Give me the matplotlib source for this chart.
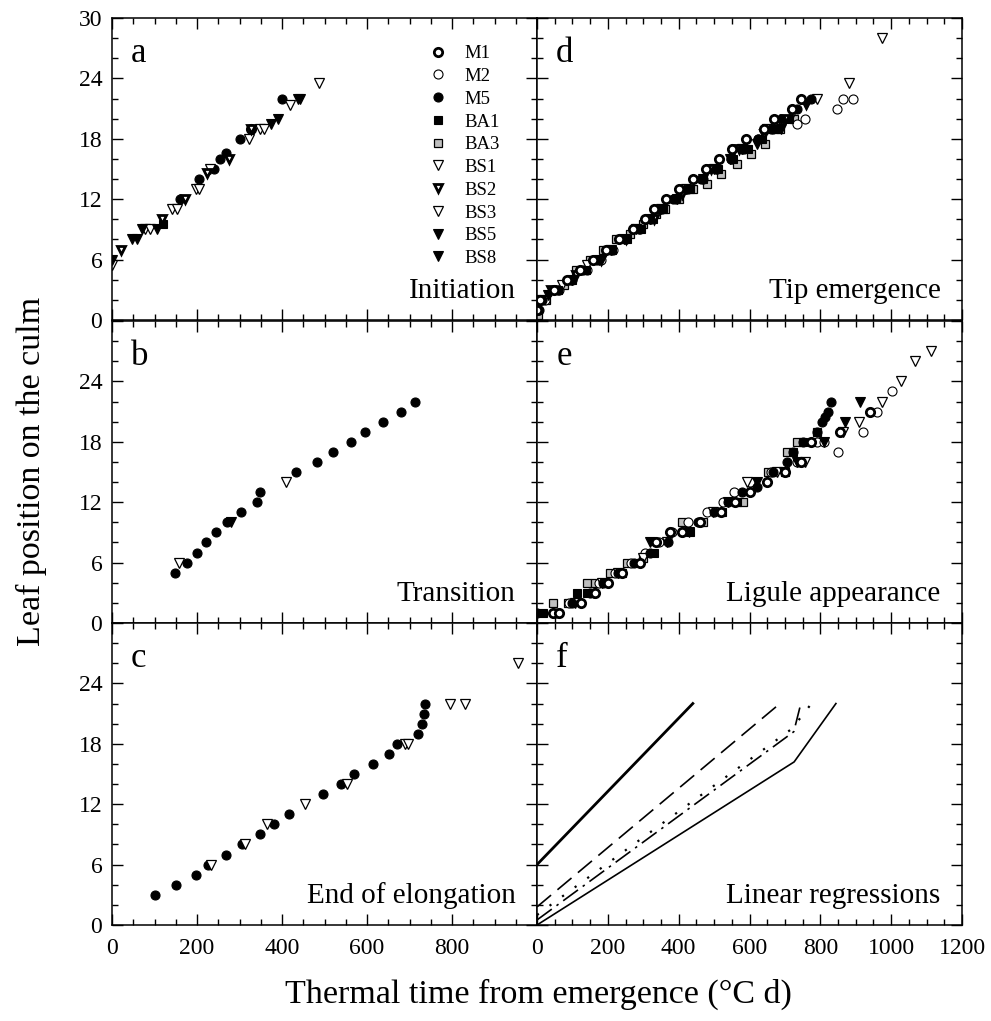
import matplotlib
matplotlib.use("Agg")
import matplotlib.pyplot as plt
from matplotlib.ticker import MultipleLocator

plt.rcParams["font.family"] = ["Liberation Serif", "DejaVu Serif"]

# ---- panel a: initiation ----
a_m5_x = [160, 205, 241, 254, 268, 300, 399]
a_m5_y = [12, 14, 15, 16, 16.6, 18, 22]
a_m1_x = [327]
a_m1_y = [19]
a_ba1_x = [120]
a_ba1_y = [9.5]
a_bs1_x = [0, 78, 89, 140, 152, 198, 205, 230, 322, 348, 358, 419, 486]
a_bs1_y = [5.5, 9, 9, 11, 11, 13, 13, 15, 18, 19, 19, 21.4, 23.5]
a_bs2_x = [20, 117, 172, 223, 275, 327]
a_bs2_y = [7, 10, 12, 14.6, 16, 19]
a_bs5_x = [0, 48, 59, 70, 107, 373, 390, 438, 442]
a_bs5_y = [6, 8, 8, 9, 9, 19.5, 20, 22, 22]

# ---- panel b: transition ----
b_m5_x = [148, 176, 199, 221, 244, 270, 303, 342, 349, 434, 482, 521, 562, 595, 637, 680, 713]
b_m5_y = [5, 6, 7, 8, 9, 10, 11, 12, 13, 15, 16, 17, 18, 19, 20, 21, 22]
b_bs1_x = [158, 409]
b_bs1_y = [6, 14]
b_bs5_x = [280]
b_bs5_y = [10]

# ---- panel c: end of elongation ----
c_m5_x = [101, 151, 197, 227, 268, 307, 348, 382, 416, 497, 538, 569, 613, 651, 670, 719, 729, 733, 736]
c_m5_y = [3, 4, 5, 6, 7, 8, 9, 10, 11, 13, 14, 15, 16, 17, 18, 19, 20, 21, 22]
c_bs1_x = [233, 314, 364, 454, 552, 689, 697, 795, 831, 956]
c_bs1_y = [6, 8, 10, 12, 14, 18, 18, 22, 22, 26]

# ---- panel d: tip emergence ----
d_m1_x = [0, 8, 48, 85, 120, 158, 195, 232, 272, 305, 330, 365, 400, 440, 478, 515, 550, 590, 640, 670, 720, 745]
d_m1_y = [1, 2, 3, 4, 5, 6, 7, 8, 9, 10, 11, 12, 13, 14, 15, 16, 17, 18, 19, 20, 21, 22]
d_m2_x = [2, 22, 62, 100, 142, 180, 215, 250, 290, 322, 352, 392, 425, 470, 508, 548, 585, 625, 665, 733, 757, 846, 864, 892]
d_m2_y = [1, 2, 3, 4, 5, 6, 7, 8, 9, 10, 11, 12, 13, 14, 15, 16, 17, 18, 19, 19.5, 20, 21, 22, 22]
d_m5_x = [5, 15, 58, 95, 130, 170, 208, 248, 288, 318, 345, 385, 420, 462, 505, 548, 580, 625, 662, 690, 735, 775]
d_m5_y = [1, 2, 3, 4, 5, 6, 7, 8, 9, 10, 11, 12, 13, 14, 15, 16, 17, 18, 19, 20, 21, 22]
d_ba1_x = [0, 12, 60, 100, 138, 172, 212, 255, 295, 328, 355, 392, 432, 470, 510, 552, 595, 635, 672, 712]
d_ba1_y = [1.5, 2, 3, 4, 5, 6, 7, 8, 9, 10, 11, 12, 13, 14, 15, 16, 17, 18, 19, 20]
d_ba3_x = [3, 25, 75, 110, 150, 185, 222, 262, 300, 335, 362, 400, 440, 480, 520, 565, 605, 645, 685, 725]
d_ba3_y = [0.5, 2, 3.5, 5, 6, 7, 8, 8.5, 9.5, 10.5, 11, 12, 13, 13.5, 14.5, 15.5, 16.5, 17.5, 19, 20]
d_bs1_x = [10, 70, 140, 210, 280, 350, 420, 500, 580, 650, 720, 790, 880, 975]
d_bs1_y = [2, 3.5, 5.5, 7, 9, 11, 13, 15, 17, 19, 20.5, 22, 23.5, 28]
d_bs2_x = [40, 110, 180, 250, 330, 410, 490, 570, 640, 700, 760]
d_bs2_y = [3, 4.5, 6, 8, 10, 12.5, 15, 17, 18.5, 20, 21.5]
d_bs5_x = [30, 100, 175, 245, 320, 395, 470, 545, 620, 690, 760]
d_bs5_y = [2.5, 4, 6, 8, 10, 12, 14, 16, 17.5, 19, 21.5]

# ---- panel e: ligule appearance ----
e_m1_x = [45, 62, 125, 165, 200, 240, 290, 335, 375, 410, 460, 520, 560, 600, 650, 700, 745, 775, 855, 940]
e_m1_y = [1, 1, 2, 3, 4, 5, 6, 8, 9, 9, 10, 11, 12, 13, 14, 15, 16, 18, 19, 21]
e_m2_x = [55, 90, 160, 175, 220, 265, 305, 345, 380, 425, 480, 525, 555, 600, 660, 735, 790, 809, 849, 921, 959, 1001]
e_m2_y = [1, 2, 3, 4, 5, 6, 7, 8, 9, 10, 11, 12, 13, 14, 15, 16, 18, 18, 17, 19, 21, 23]
e_m5_x = [0, 100, 150, 185, 230, 275, 320, 370, 410, 455, 500, 540, 580, 620, 665, 705, 724, 752, 790, 804, 813, 822, 829]
e_m5_y = [1, 2, 3, 4, 5, 6, 7, 8, 9, 10, 11, 12, 13, 13.5, 15, 16, 17, 18, 19, 20, 20.5, 21, 22]
e_ba1_x = [18, 112, 140, 188, 239, 330, 432, 522, 564, 700, 724, 752]
e_ba1_y = [1, 3, 3, 4, 5, 7, 9, 11, 12, 15, 17, 18]
e_ba3_x = [46, 88, 140, 164, 206, 254, 300, 408, 470, 583, 653, 705, 733, 790]
e_ba3_y = [2, 2, 4, 4, 5, 6, 6.5, 10, 10, 12, 15, 17, 18, 19]
e_bs1_x = [107, 183, 230, 300, 366, 498, 592, 677, 757, 864, 910, 973, 1029, 1068, 1112]
e_bs1_y = [2, 4, 5, 6.5, 8, 11, 14, 15, 16, 19, 20, 22, 24, 26, 27]
e_bs5_x = [319, 428, 540, 620, 696, 733, 809, 869, 911]
e_bs5_y = [8, 9, 12, 14, 15, 16, 18, 20, 22]

# ---- panel f: linear regressions ----
f_init_x = [0, 440]
f_init_y = [6, 22]
f_tip_x = [0, 686]
f_tip_y = [1.8, 22]
f_lig_x = [0, 720, 775]
f_lig_y = [1.0, 19.5, 22]
f_trans_x = [0, 725, 745]
f_trans_y = [0.5, 19.2, 22]
f_end_x = [0, 726, 844]
f_end_y = [0, 16.2, 22]

STYLES = {
    "M1": dict(marker="o", mfc="white", mec="black", mew=2.0, ms=6),
    "M2": dict(marker="o", mfc="white", mec="black", mew=0.8, ms=6.5),
    "M5": dict(marker="o", mfc="black", mec="black", mew=0.8, ms=6.5),
    "BA1": dict(marker="s", mfc="black", mec="black", mew=0.8, ms=5.5),
    "BA3": dict(marker="s", mfc="0.75", mec="black", mew=0.9, ms=5.5),
    "BS1": dict(marker="v", mfc="white", mec="black", mew=0.9, ms=6.5),
    "BS2": dict(marker="v", mfc="white", mec="black", mew=2.0, ms=6),
    "BS3": dict(marker="v", mfc="white", mec="black", mew=0.9, ms=6.5),
    "BS5": dict(marker="v", mfc="black", mec="black", mew=0.8, ms=6.5),
    "BS8": dict(marker="v", mfc="black", mec="black", mew=0.8, ms=6.5),
}


def pts(ax, x, y, key):
    ax.plot(x, y, linestyle="none", label=key, **STYLES[key])


def style_axis(ax, xmax, show_x, show_y, top_row):
    ax.set_xlim(0, xmax)
    ax.set_ylim(0, 30)
    ax.xaxis.set_major_locator(MultipleLocator(200))
    ax.xaxis.set_minor_locator(MultipleLocator(50))
    ax.yaxis.set_major_locator(MultipleLocator(6))
    ax.yaxis.set_minor_locator(MultipleLocator(2))
    ax.tick_params(which="both", direction="in", top=True, right=True, width=1.0)
    ax.tick_params(which="major", length=8, labelsize=17, pad=7)
    ax.tick_params(axis="x", which="major", pad=9)
    ax.tick_params(which="minor", length=4)
    for sp in ax.spines.values():
        sp.set_linewidth(1.1)
    if show_x:
        if xmax == 1000:
            ax.set_xticks([0, 200, 400, 600, 800, 1000])
            ax.set_xticklabels(["0", "200", "400", "600", "800", ""])
    else:
        ax.tick_params(labelbottom=False)
    if show_y:
        ax.set_yticks([0, 6, 12, 18, 24, 30])
        if not top_row:
            ax.set_yticklabels(["0", "6", "12", "18", "24", ""])
    else:
        ax.tick_params(labelleft=False)


def label_panel(ax, letter, name):
    ax.text(0.045, 0.855, letter, transform=ax.transAxes, fontsize=25,
            ha="left", va="baseline")
    ax.text(0.95, 0.073, name, transform=ax.transAxes, fontsize=21,
            ha="right", va="baseline")


fig = plt.figure(figsize=(9.91, 10.21), dpi=100)

x_left, x_right, w = 112 / 991, 537 / 991, 425 / 991
h = 302 / 1021
rows = [1 - 320 / 1021, 1 - 623 / 1021, 1 - 925 / 1021]

ax_a = fig.add_axes([x_left, rows[0], w, h])
ax_b = fig.add_axes([x_left, rows[1], w, h])
ax_c = fig.add_axes([x_left, rows[2], w, h])
ax_d = fig.add_axes([x_right, rows[0], w, h])
ax_e = fig.add_axes([x_right, rows[1], w, h])
ax_f = fig.add_axes([x_right, rows[2], w, h])

# panel a
pts(ax_a, a_m1_x, a_m1_y, "M1")
pts(ax_a, [], [], "M2")
pts(ax_a, a_m5_x, a_m5_y, "M5")
pts(ax_a, a_ba1_x, a_ba1_y, "BA1")
pts(ax_a, [], [], "BA3")
pts(ax_a, a_bs1_x, a_bs1_y, "BS1")
pts(ax_a, a_bs2_x, a_bs2_y, "BS2")
pts(ax_a, [], [], "BS3")
pts(ax_a, a_bs5_x, a_bs5_y, "BS5")
pts(ax_a, [], [], "BS8")
ax_a.legend(loc="upper left", bbox_to_anchor=(0.728, 0.935), frameon=False,
            fontsize=13.5, handlelength=1.0, handletextpad=0.9,
            labelspacing=0.30, borderaxespad=0)

# panel b
pts(ax_b, b_m5_x, b_m5_y, "M5")
pts(ax_b, b_bs1_x, b_bs1_y, "BS1")
pts(ax_b, b_bs5_x, b_bs5_y, "BS5")

# panel c
pts(ax_c, c_m5_x, c_m5_y, "M5")
pts(ax_c, c_bs1_x, c_bs1_y, "BS1")

# panel d
pts(ax_d, d_ba3_x, d_ba3_y, "BA3")
pts(ax_d, d_m2_x, d_m2_y, "M2")
pts(ax_d, d_bs1_x, d_bs1_y, "BS1")
pts(ax_d, d_ba1_x, d_ba1_y, "BA1")
pts(ax_d, d_bs2_x, d_bs2_y, "BS2")
pts(ax_d, d_bs5_x, d_bs5_y, "BS5")
pts(ax_d, d_m5_x, d_m5_y, "M5")
pts(ax_d, d_m1_x, d_m1_y, "M1")

# panel e
pts(ax_e, e_ba3_x, e_ba3_y, "BA3")
pts(ax_e, e_m2_x, e_m2_y, "M2")
pts(ax_e, e_bs1_x, e_bs1_y, "BS1")
pts(ax_e, e_ba1_x, e_ba1_y, "BA1")
pts(ax_e, e_bs5_x, e_bs5_y, "BS5")
pts(ax_e, e_m5_x, e_m5_y, "M5")
pts(ax_e, e_m1_x, e_m1_y, "M1")

# panel f
ax_f.plot(f_init_x, f_init_y, color="black", lw=2.0)
ax_f.plot(f_tip_x, f_tip_y, color="black", lw=1.2, dashes=(11, 5))
ax_f.plot(f_lig_x, f_lig_y, color="black", lw=1.6, dashes=(1, 6))
ax_f.plot(f_trans_x, f_trans_y, color="black", lw=1.2, dashes=(11, 3.5, 1.5, 3.5))
ax_f.plot(f_end_x, f_end_y, color="black", lw=1.2)

style_axis(ax_a, 1000, False, True, True)
style_axis(ax_b, 1000, False, True, False)
style_axis(ax_c, 1000, True, True, False)
style_axis(ax_d, 1200, False, False, True)
style_axis(ax_e, 1200, False, False, False)
style_axis(ax_f, 1200, True, False, False)

label_panel(ax_a, "a", "Initiation")
label_panel(ax_b, "b", "Transition")
label_panel(ax_c, "c", "End of elongation")
label_panel(ax_d, "d", "Tip emergence")
label_panel(ax_e, "e", "Ligule appearance")
label_panel(ax_f, "f", "Linear regressions")

fig.text(0.543, 0.026, "Thermal time from emergence (°C d)", ha="center",
         va="center", fontsize=24.5)
fig.text(0.032, 0.538, "Leaf position on the culm", ha="center", va="center",
         rotation=90, fontsize=24.5)

fig.savefig("out.png", dpi=100)
